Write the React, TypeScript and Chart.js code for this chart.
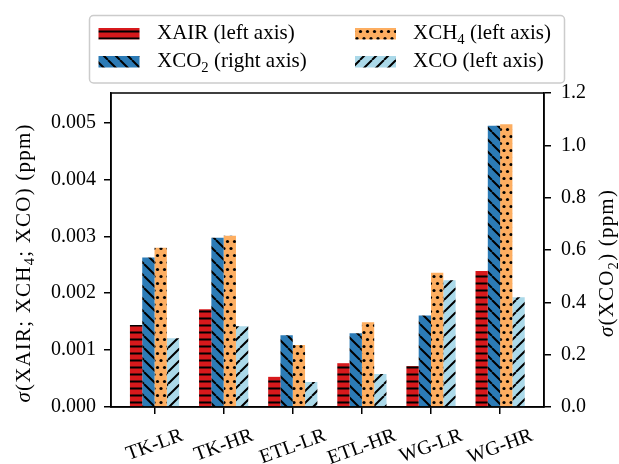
import React, { useEffect, useRef } from 'react';
import { Chart, registerables } from 'chart.js';

Chart.register(...registerables);

const categories = ['TK-LR', 'TK-HR', 'ETL-LR', 'ETL-HR', 'WG-LR', 'WG-HR'];
const xairValues = [0.00144, 0.00172, 0.00053, 0.00077, 0.00072, 0.00239];
const xco2Values = [0.571, 0.647, 0.274, 0.282, 0.35, 1.075];
const xch4Values = [0.0028, 0.00301, 0.00109, 0.00149, 0.00236, 0.00497];
const xcoValues = [0.00121, 0.00142, 0.00044, 0.00058, 0.00223, 0.00193];
const leftTickValues = [0, 0.001, 0.002, 0.003, 0.004, 0.005];
const rightTickValues = [0, 0.2, 0.4, 0.6, 0.8, 1.0, 1.2];

type Part = { t: string; sub?: boolean; italic?: boolean };
const xairLabel: Part[] = [{ t: 'XAIR (left axis)' }];
const xco2Label: Part[] = [{ t: 'XCO' }, { t: '2', sub: true }, { t: ' (right axis)' }];
const xch4Label: Part[] = [{ t: 'XCH' }, { t: '4', sub: true }, { t: ' (left axis)' }];
const xcoLabel: Part[] = [{ t: 'XCO (left axis)' }];
const leftTitle: Part[] = [
  { t: 'σ', italic: true }, { t: '(XAIR; XCH' }, { t: '4', sub: true }, { t: '; XCO) (ppm)' },
];
const rightTitle: Part[] = [{ t: 'σ', italic: true }, { t: '(XCO' }, { t: '2', sub: true }, { t: ') (ppm)' }];

const FONT = '"Liberation Serif", "DejaVu Serif", serif';
const RED = '#d7191c';
const BLUE = '#2c7bb6';
const ORANGE = '#fdae61';
const LBLUE = '#abd9e9';

function makePattern(kind: string, bg: string): CanvasPattern | string {
  const c = document.createElement('canvas');
  let w = 12, h = 12;
  if (kind === 'h') { w = 7; h = 7; }
  if (kind === 'dots') { w = 7; h = 14; }
  c.width = w; c.height = h;
  const g = c.getContext('2d');
  if (!g) return bg;
  g.fillStyle = bg;
  g.fillRect(0, 0, w, h);
  g.fillStyle = '#000';
  g.strokeStyle = '#000';
  g.lineWidth = 2;
  if (kind === 'h') {
    g.fillRect(0, 2.5, w, 2);
  } else if (kind === 'back') {
    g.beginPath();
    for (const k of [-w, 0, w]) { g.moveTo(k, 0); g.lineTo(k + w, h); }
    g.stroke();
  } else if (kind === 'fwd') {
    g.beginPath();
    for (const k of [-w, 0, w]) { g.moveTo(k, h); g.lineTo(k + w, 0); }
    g.stroke();
  } else if (kind === 'dots') {
    const r = 1.6;
    const pts = [[3.5, 3.5], [0, 10.5], [7, 10.5]];
    for (const [x, y] of pts) { g.beginPath(); g.arc(x, y, r, 0, Math.PI * 2); g.fill(); }
  }
  const p = g.createPattern(c, 'repeat');
  return p || bg;
}

function fontFor(p: Part, size: number) {
  return `${p.italic ? 'italic ' : ''}${p.sub ? size * 0.7 : size}px ${FONT}`;
}
function richWidth(ctx: CanvasRenderingContext2D, parts: Part[], size: number) {
  let w = 0;
  for (const p of parts) {
    ctx.font = fontFor(p, size);
    w += ctx.measureText(p.t).width;
  }
  return w;
}
function drawRich(ctx: CanvasRenderingContext2D, parts: Part[], x: number, y: number, size: number, center: boolean) {
  let cx = center ? x - richWidth(ctx, parts, size) / 2 : x;
  ctx.textAlign = 'left';
  ctx.textBaseline = 'alphabetic';
  for (const p of parts) {
    ctx.font = fontFor(p, size);
    ctx.fillText(p.t, cx, p.sub ? y + size * 0.22 : y);
    cx += ctx.measureText(p.t).width;
  }
}

export default function App() {
  const ref = useRef<HTMLCanvasElement | null>(null);
  useEffect(() => {
    document.body.style.margin = '0';
    const canvas = ref.current;
    if (!canvas) return;
    const pRed = makePattern('h', RED);
    const pBlue = makePattern('back', BLUE);
    const pOrange = makePattern('dots', ORANGE);
    const pLblue = makePattern('fwd', LBLUE);

    const legendItems = [
      { parts: xairLabel, fill: pRed, col: 0, row: 0 },
      { parts: xco2Label, fill: pBlue, col: 0, row: 1 },
      { parts: xch4Label, fill: pOrange, col: 1, row: 0 },
      { parts: xcoLabel, fill: pLblue, col: 1, row: 1 },
    ];

    const overlay = {
      id: 'overlay',
      afterDraw(chart: any) {
        const ctx: CanvasRenderingContext2D = chart.ctx;
        const a = chart.chartArea;
        ctx.save();
        ctx.strokeStyle = '#000';
        ctx.lineWidth = 1.5;
        ctx.strokeRect(a.left, a.top, a.right - a.left, a.bottom - a.top);
        ctx.fillStyle = '#000';
        // x labels
        const xs = chart.scales.x;
        const ang = (20 * Math.PI) / 180;
        const fs = 20;
        categories.forEach((lab, i) => {
          ctx.font = `${fs}px ${FONT}`;
          const w = ctx.measureText(lab).width;
          const hh = fs * 0.96;
          const bh = w * Math.sin(ang) + hh * Math.cos(ang);
          const cx = xs.getPixelForValue(i);
          const cy = a.bottom + 19 + bh / 2;
          ctx.save();
          ctx.translate(cx, cy);
          ctx.rotate(-ang);
          ctx.textAlign = 'center';
          ctx.textBaseline = 'middle';
          ctx.fillText(lab, 0, 0);
          ctx.restore();
        });
        // axis titles
        const cyMid = 263;
        (ctx as any).letterSpacing = '1.2px';
        ctx.save();
        ctx.translate(29.5, cyMid);
        ctx.rotate(-Math.PI / 2);
        drawRich(ctx, leftTitle, 0, 0, 21, true);
        ctx.restore();
        ctx.save();
        ctx.translate(613, cyMid);
        ctx.rotate(-Math.PI / 2);
        drawRich(ctx, rightTitle, 0, 0, 21, true);
        ctx.restore();
        (ctx as any).letterSpacing = '0px';
        // legend
        ctx.beginPath();
        (ctx as any).roundRect(89.5, 15.5, 475, 67.5, 4);
        ctx.fillStyle = 'rgba(255,255,255,0.8)';
        ctx.fill();
        ctx.strokeStyle = '#cccccc';
        ctx.lineWidth = 1.5;
        ctx.stroke();
        const colSw = [98.5, 355];
        const colTx = [157, 413];
        const rowSw = [28, 56];
        const rowTx = [39.3, 67];
        for (const it of legendItems) {
          ctx.fillStyle = it.fill as any;
          ctx.fillRect(colSw[it.col], rowSw[it.row], 41, 11.5);
          ctx.fillStyle = '#000';
          drawRich(ctx, it.parts, colTx[it.col], rowTx[it.row], 21, false);
        }
        ctx.restore();
      },
    };

    const grid = { drawOnChartArea: false, drawTicks: true, tickLength: 7, color: '#000', lineWidth: 1.5, offset: false };
    const border = { display: true, color: '#000', width: 1.5 };
    const tickFont = { family: FONT, size: 20 };

    const chart = new Chart(canvas, {
      type: 'bar',
      data: {
        datasets: [
          { label: 'XAIR', data: xairValues.map((v, i) => ({ x: i, y: v })), backgroundColor: pRed as any, yAxisID: 'y', borderWidth: 0 },
          { label: 'XCO2', data: xco2Values.map((v, i) => ({ x: i, y: v })), backgroundColor: pBlue as any, yAxisID: 'y1', borderWidth: 0 },
          { label: 'XCH4', data: xch4Values.map((v, i) => ({ x: i, y: v })), backgroundColor: pOrange as any, yAxisID: 'y', borderWidth: 0 },
          { label: 'XCO', data: xcoValues.map((v, i) => ({ x: i, y: v })), backgroundColor: pLblue as any, yAxisID: 'y', borderWidth: 0 },
        ],
      },
      options: {
        responsive: false,
        animation: false,
        devicePixelRatio: 1,
        layout: { padding: { top: 93, left: 0, right: 0, bottom: 0 } },
        datasets: { bar: { categoryPercentage: 0.712, barPercentage: 1 } },
        plugins: { legend: { display: false }, tooltip: { enabled: false } },
        scales: {
          x: {
            type: 'linear', min: -0.63, max: 5.635, offset: false,
            grid: grid as any, border,
            ticks: { display: false },
            afterBuildTicks: (s: any) => { s.ticks = categories.map((_, i) => ({ value: i })); },
            afterFit: (s: any) => { s.height = 57; },
          },
          y: {
            type: 'linear', position: 'left', min: 0, max: 0.00552,
            grid: grid as any, border,
            ticks: { font: tickFont, color: '#000', padding: 8, autoSkip: false, callback: (v: any) => Number(v).toFixed(3) },
            afterBuildTicks: (s: any) => { s.ticks = leftTickValues.map((v) => ({ value: v })); },
            afterFit: (s: any) => { s.width = 111; },
          },
          y1: {
            type: 'linear', position: 'right', min: 0, max: 1.2,
            grid: grid as any, border,
            ticks: { font: tickFont, color: '#000', padding: 10, autoSkip: false, callback: (v: any) => Number(v).toFixed(1) },
            afterBuildTicks: (s: any) => { s.ticks = rightTickValues.map((v) => ({ value: v })); },
            afterFit: (s: any) => { s.width = 75; },
          },
        },
      } as any,
      plugins: [overlay],
    });
    return () => chart.destroy();
  }, []);
  return (
    <div style={{ width: 619, height: 464, background: '#fff' }}>
      <canvas ref={ref} width={619} height={464} style={{ display: 'block' }} />
    </div>
  );
}
